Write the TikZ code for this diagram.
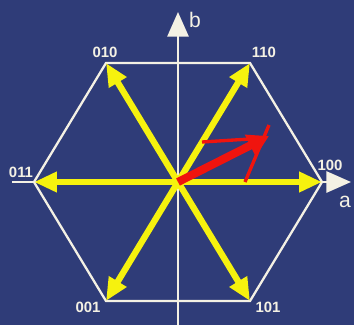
\documentclass[tikz,border=0pt]{standalone}
\usepackage{fontspec}
\setmainfont{Liberation Sans}
\usepackage{xcolor}
\usetikzlibrary{arrows.meta,positioning}
\definecolor{navybg}{HTML}{2F3C78}
\definecolor{hexwhite}{HTML}{F4F1E4}
\definecolor{vecyellow}{HTML}{F6F20E}
\definecolor{refred}{HTML}{F0140E}

\begin{document}
\begin{tikzpicture}[x=0.02cm, y=0.02cm,
    hexline/.style={draw=hexwhite, line width=1.3pt, line join=miter},
    axisline/.style={draw=hexwhite, line width=1.4pt, -{Triangle[length=14pt,width=12pt]}},
    basevec/.style={draw=vecyellow, line width=3.6pt, -{Triangle[length=13pt,width=11pt]}},
    refvec/.style={draw=refred, line width=4.6pt, -{Triangle[length=12pt,width=13pt]}},
    helpline/.style={draw=refred, line width=1.9pt},
    vlabel/.style={text=hexwhite, font=\fontsize{8.5}{9}\selectfont\bfseries, inner sep=0pt},
    axlabel/.style={text=hexwhite, font=\fontsize{12}{13}\selectfont, inner sep=0pt}
]
% background
\fill[navybg] (-178,-143) rectangle (176,182);
\useasboundingbox (-178,-143) rectangle (176,182);

\node[inner sep=0pt, minimum size=0pt] (O) at (0,0) {};
\coordinate (v100) at (144,0);
\coordinate (v110) at (72,119);
\coordinate (v010) at (-72,119);
\coordinate (v011) at (-144,0);
\coordinate (v001) at (-72,-119);
\coordinate (v101) at (72,-119);

% hexagon
\draw[hexline] (v100) -- (v110) -- (v010) -- (v011) -- (v001) -- (v101) -- cycle;

% axes
\coordinate (aStart) at (-166,0);
\coordinate (aEnd) at (173,0);
\coordinate (bStart) at (0,-143);
\coordinate (bEnd) at (0,170);
\draw[axisline] (aStart) -- (aEnd);
\draw[axisline] (bStart) -- (bEnd);
\node[axlabel] (alab) at (167,-20) {a};
\node[axlabel] (blab) at (17,162) {b};

% basic vectors
\draw[basevec] (O.center) -- (v100);
\draw[basevec] (O.center) -- (v110);
\draw[basevec] (O.center) -- (v010);
\draw[basevec] (O.center) -- (v011);
\draw[basevec] (O.center) -- (v001);
\draw[basevec] (O.center) -- (v101);

\node[vlabel] (l100) at (152,17) {100};
\node[vlabel] (l110) at (86,130) {110};
\node[vlabel] (l010) at (-73,130) {010};
\node[vlabel] (l011) at (-157,10) {011};
\node[vlabel] (l001) at (-90,-125) {001};
\node[vlabel] (l101) at (90,-125) {101};

% reference vector and its components
\coordinate (rTip) at (91,46);
\coordinate (rA) at (24,40);
\coordinate (rAend) at (88,44);
\coordinate (rB) at (67,0);
\coordinate (rBend) at (91,57);
\draw[helpline] (rA) -- (rAend);
\draw[helpline] (rB) -- (rBend);
\draw[refvec] (O.center) -- (rTip);
\end{tikzpicture}
\end{document}
